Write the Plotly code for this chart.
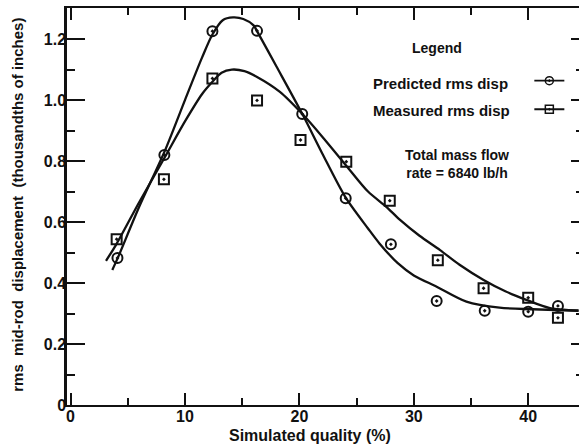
import plotly.graph_objects as go

# ---- data ----
quality_pred = [4.1, 8.2, 12.4, 16.3, 20.25, 24.05, 28.0, 32.0, 36.2, 40.0, 42.6]
rms_pred = [0.482, 0.82, 1.226, 1.227, 0.954, 0.678, 0.527, 0.341, 0.309, 0.306, 0.325]

quality_meas = [4.03, 8.16, 12.4, 16.3, 20.1, 24.1, 27.9, 32.1, 36.1, 40.0, 42.6]
rms_meas = [0.544, 0.74, 1.071, 0.999, 0.869, 0.798, 0.670, 0.475, 0.383, 0.352, 0.286]

# fitted (hand-drawn) curves
pred_curve_x = [3.65, 4.1, 6.0, 8.2, 10.0, 11.5, 12.4, 13.3, 14.2, 15.1, 16.0, 16.3, 18.0, 20.25,
                22.0, 24.05, 26.0, 27.0, 28.6, 30.0, 32.0, 34.6, 37.5, 40.4, 44.4]
pred_curve_y = [0.443, 0.48, 0.65, 0.83, 1.0, 1.14, 1.215, 1.262, 1.271, 1.266, 1.245, 1.226, 1.11, 0.955,
                0.825, 0.68, 0.579, 0.53, 0.465, 0.425, 0.388, 0.339, 0.319, 0.314, 0.309]

meas_curve_x = [3.1, 4.0, 6.0, 8.2, 10.0, 11.5, 12.4, 13.2, 14.1, 15.2, 16.3, 18.3, 20.25, 22.0,
                24.1, 26.0, 27.6, 28.8, 30.5, 32.3, 34.0, 36.1, 38.0, 39.9, 41.9, 44.4]
meas_curve_y = [0.473, 0.527, 0.665, 0.81, 0.93, 1.02, 1.06, 1.09, 1.10, 1.095, 1.076, 1.027, 0.955, 0.88,
                0.785, 0.70, 0.65, 0.607, 0.555, 0.508, 0.46, 0.41, 0.373, 0.344, 0.318, 0.31]

x_tickvals = [0, 10, 20, 30, 40]
x_ticktext = ["0", "10", "20", "30", "40"]
x_minor = [5, 15, 25, 35]
y_tickvals = [0, 0.2, 0.4, 0.6, 0.8, 1.0, 1.2]
y_ticktext = ["0", "0.2", "0.4", "0.6", "0.8", "1.0", "1.2"]
y_minor = [0.1, 0.3, 0.5, 0.7, 0.9, 1.1]

FONT = "Liberation Sans"
INK = "#111111"

fig = go.Figure()
fig.add_trace(go.Scatter(x=pred_curve_x, y=pred_curve_y, mode="lines",
                         line=dict(color=INK, width=2.3, shape="spline", smoothing=0.8),
                         showlegend=False, hoverinfo="skip"))
fig.add_trace(go.Scatter(x=meas_curve_x, y=meas_curve_y, mode="lines",
                         line=dict(color=INK, width=2.3, shape="spline", smoothing=0.8),
                         showlegend=False, hoverinfo="skip"))
fig.add_trace(go.Scatter(x=quality_pred, y=rms_pred, mode="markers",
                         marker=dict(symbol="circle-open-dot", size=10, color=INK,
                                     line=dict(width=2, color=INK)),
                         showlegend=False))
fig.add_trace(go.Scatter(x=quality_meas, y=rms_meas, mode="markers",
                         marker=dict(symbol="square-open-dot", size=10, color=INK,
                                     line=dict(width=2, color=INK)),
                         showlegend=False))
# legend keys (no data)
fig.add_trace(go.Scatter(x=[None], y=[None], mode="lines+markers", name="",
                         line=dict(color=INK, width=1.8),
                         marker=dict(symbol="circle-open-dot", size=8, color=INK, line=dict(width=1.5, color=INK)),
                         legend="legend", yaxis="y2"))
fig.add_trace(go.Scatter(x=[None], y=[None], mode="lines+markers", name="",
                         line=dict(color=INK, width=1.8),
                         marker=dict(symbol="square-open-dot", size=8, color=INK, line=dict(width=1.5, color=INK)),
                         legend="legend2", yaxis="y2"))

tickfont = dict(family=FONT, size=16, color=INK, weight="bold")

fig.update_layout(
    width=579, height=448,
    margin=dict(l=67, r=0, t=8, b=43),
    paper_bgcolor="white", plot_bgcolor="white",
    font=dict(family=FONT, color=INK),
    xaxis=dict(range=[-0.31, 44.44], showgrid=False, zeroline=False,
               showline=True, linecolor=INK, linewidth=2, mirror="ticks",
               ticks="inside", ticklen=12, tickwidth=1.8, tickcolor=INK,
               tickvals=x_tickvals, ticktext=x_ticktext, tickfont=tickfont,
               ticklabelstandoff=-4,
               minor=dict(tickvals=x_minor, ticks="inside", ticklen=7, tickwidth=1.8, tickcolor=INK, showgrid=False),
               automargin=False),
    yaxis=dict(range=[0, 1.302], showgrid=False, zeroline=False,
               showline=True, linecolor=INK, linewidth=2.5,
               ticks="inside", ticklen=18, tickwidth=1.8, tickcolor=INK,
               tickvals=y_tickvals, ticktext=y_ticktext, tickfont=tickfont,
               ticklabelstandoff=-5,
               minor=dict(tickvals=y_minor, ticks="inside", ticklen=8, tickwidth=1.5, tickcolor=INK, showgrid=False),
               automargin=False),
    yaxis2=dict(overlaying="y", side="right", matches="y", range=[0, 1.302],
                showgrid=False, zeroline=False, showline=False,
                ticks="inside", ticklen=8, tickwidth=1.8, tickcolor=INK,
                tickvals=y_tickvals, showticklabels=False,
                minor=dict(tickvals=y_minor, ticks="inside", ticklen=3, tickwidth=1.5, tickcolor=INK, showgrid=False)),
    legend=dict(x=0.903, y=0.817, xanchor="left", yanchor="middle", bgcolor="rgba(0,0,0,0)",
                font=dict(size=12), itemwidth=30),
    legend2=dict(x=0.903, y=0.745, xanchor="left", yanchor="middle", bgcolor="rgba(0,0,0,0)",
                 font=dict(size=12), itemwidth=30),
)

txt = dict(family=FONT, size=15, color=INK, weight="bold")
sp = "\u00a0\u00a0"
fig.add_annotation(text=f"rms{sp}mid-rod{sp}displacement{sp}(thousandths of inches)", textangle=-90,
                   xref="paper", yref="paper", x=-0.096, y=0.504, showarrow=False,
                   xanchor="center", yanchor="middle", font=txt)
fig.add_annotation(text="Simulated quality (%)", xref="x", yref="paper", x=20.9, y=-0.078,
                   showarrow=False, xanchor="center", yanchor="middle",
                   font=dict(family=FONT, size=16, color=INK, weight="bold"))
fig.add_annotation(text="Legend", xref="x", yref="y", x=32.0, y=1.17, showarrow=False,
                   xanchor="center", yanchor="middle", font=dict(family=FONT, size=14, color=INK, weight="bold"))
fig.add_annotation(text="Predicted rms disp", xref="x", yref="y", x=26.3, y=1.055, showarrow=False,
                   xanchor="left", yanchor="middle", font=txt)
fig.add_annotation(text="Measured rms disp", xref="x", yref="y", x=26.3, y=0.967, showarrow=False,
                   xanchor="left", yanchor="middle", font=txt)
fig.add_annotation(text="Total mass flow<br>rate = 6840 lb/h", xref="x", yref="y", x=33.8, y=0.79,
                   showarrow=False, xanchor="center", yanchor="middle", align="center",
                   font=dict(family=FONT, size=14, color=INK, weight="bold"))

fig.write_html("out.html")
